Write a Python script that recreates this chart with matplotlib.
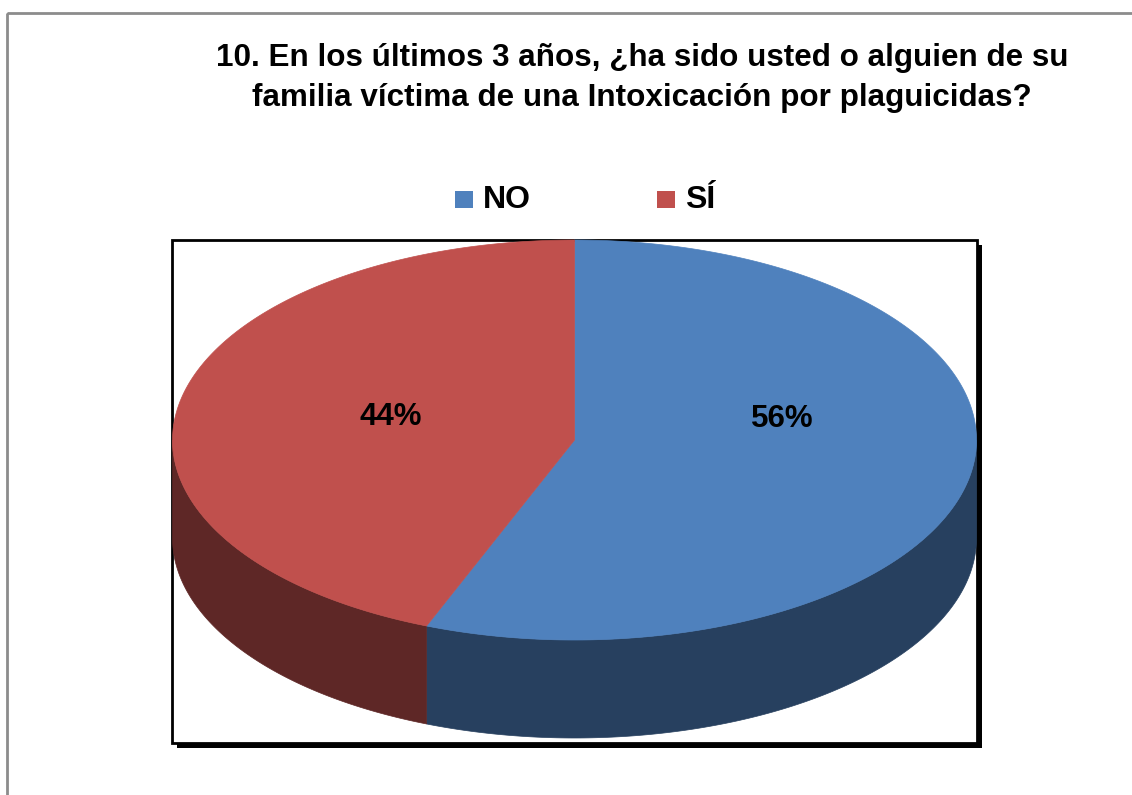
import numpy as np
import matplotlib
matplotlib.use("Agg")
from matplotlib import pyplot as plt
from matplotlib.patches import Polygon, Rectangle

plt.rcParams['font.family'] = ['Liberation Sans', 'DejaVu Sans']

# datos
categorias = ["NO", "SÍ"]
valores = [56, 44]
colores_top = ["#4F81BD", "#C0504D"]
colores_lado = ["#27405F", "#5E2726"]
titulo = "10. En los últimos 3 años, ¿ha sido usted o alguien de su\nfamilia víctima de una Intoxicación por plaguicidas?"

W, H = 1132, 795
fig = plt.figure(figsize=(W / 100, H / 100), dpi=100)
ax = fig.add_axes([0, 0, 1, 1])
ax.set_xlim(0, W)
ax.set_ylim(H, 0)
ax.axis("off")

# marco exterior gris
ax.add_patch(Rectangle((7, 13), W + 20, H + 20, fill=False, edgecolor="#8c8c8c", lw=2))

# area del grafico con sombra
ax.add_patch(Rectangle((177, 245), 805, 503, facecolor="black", edgecolor="none"))
ax.add_patch(Rectangle((172, 240), 805, 503, facecolor="white", edgecolor="black", lw=2))

# pastel 3D (elipse)
cx, cy, a, b, prof = 574.5, 440, 402, 200, 98
total = float(sum(valores))

# angulos: NO en sentido horario desde arriba, SÍ en sentido antihorario
ang = []
inicio = 90.0
for v in valores:
    fin = inicio - 360.0 * v / total
    ang.append((fin, inicio))
    inicio = fin


def punto(t, dy=0):
    r = np.radians(t)
    return cx + a * np.cos(r), cy - b * np.sin(r) + dy


# caras laterales (solo parte frontal: 180..360 grados)
for (t0, t1), col in zip(ang, colores_lado):
    for k in (-360, 0, 360):
        lo = max(t0 + k, 180)
        hi = min(t1 + k, 360)
        if hi > lo:
            ts = np.linspace(lo, hi, 200)
            sup = [punto(t) for t in ts]
            inf = [punto(t, prof) for t in ts[::-1]]
            ax.add_patch(Polygon(sup + inf, closed=True, facecolor=col, edgecolor=col, lw=0.5))

# caras superiores
for (t0, t1), col in zip(ang, colores_top):
    ts = np.linspace(t0, t1, 400)
    pts = [(cx, cy)] + [punto(t) for t in ts]
    ax.add_patch(Polygon(pts, closed=True, facecolor=col, edgecolor=col, lw=0.5))

# etiquetas de porcentaje
kx = [0.525, 0.465]
for (t0, t1), v, k in zip(ang, valores, kx):
    tm = (t0 + t1) / 2
    x = cx + k * a * np.cos(np.radians(tm))
    y = cy - 0.03 * b * np.sin(np.radians(tm)) - 22
    ax.text(x, y, f"{v}%", ha="center", va="center", fontsize=22.5, fontweight="bold", color="black")

# titulo
ax.text(642, 78, titulo, ha="center", va="center", fontsize=22.6, fontweight="bold",
        linespacing=1.4)

# leyenda
leg_x = [455, 657]
for xs, cat, col in zip(leg_x, categorias, colores_top):
    ax.add_patch(Rectangle((xs, 191), 18, 17, facecolor=col, edgecolor="none"))
    ax.text(xs + 28, 199.5, cat, ha="left", va="center", fontsize=23, fontweight="bold")

plt.savefig("out.png", dpi=100)
